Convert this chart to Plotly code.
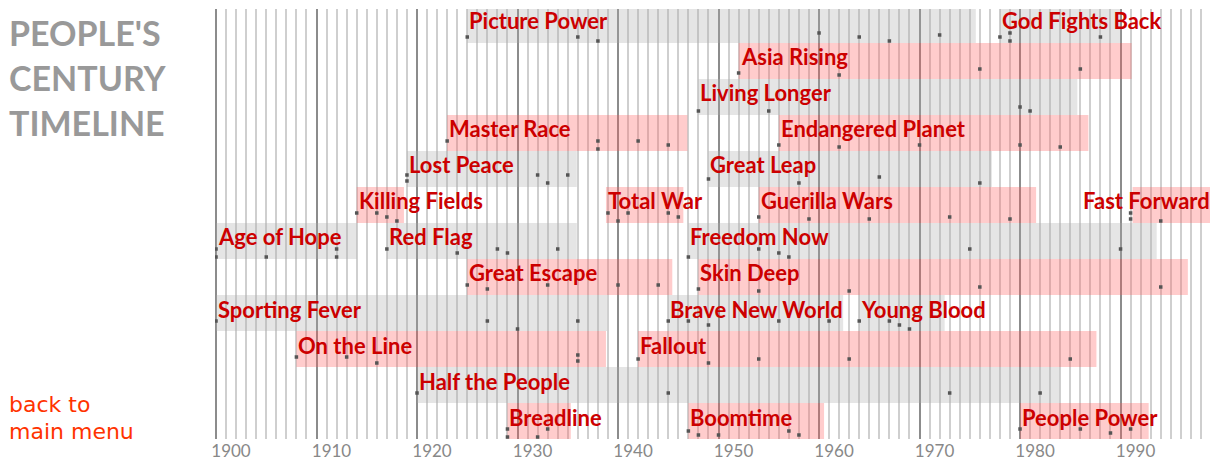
import plotly.graph_objects as go

# ---------------- data ----------------
titles = ["Picture Power", "God Fights Back", "Asia Rising", "Living Longer",
          "Master Race", "Endangered Planet", "Lost Peace", "Great Leap",
          "Killing Fields", "Total War", "Guerilla Wars", "Fast Forward",
          "Age of Hope", "Red Flag", "Freedom Now", "Great Escape", "Skin Deep",
          "Sporting Fever", "Brave New World", "Young Blood", "On the Line",
          "Fallout", "Half the People", "Breadline", "Boomtime", "People Power"]
rows = [1, 1, 2, 3, 4, 4, 5, 5, 6, 6, 6, 6, 7, 7, 7, 8, 8, 9, 9, 9, 10, 10, 11, 12, 12, 12]
starts = [1925, 1978, 1952, 1948, 1923, 1956, 1919, 1949, 1914, 1938.8, 1954, 1991.2,
          1900, 1917, 1947, 1925, 1948, 1900, 1945, 1964, 1908, 1942, 1920, 1929, 1947, 1980]
ends = [1975.6, 1990.1, 1991.1, 1985.7, 1946.9, 1986.8, 1935.9, 1977.2, 1918.7, 1946.5, 1981.6, 1999.5,
        1914, 1935.9, 1993.6, 1945.4, 1996.7, 1938.9, 1962.4, 1972.5, 1938.8, 1987.6, 1983.9, 1935.3, 1960.5, 1992.8]
dot_years = [
    [1925, 1936, 1938, 1960, 1964, 1967, 1972],
    [1978, 1979, 1979, 1988],
    [1952, 1962, 1976, 1986],
    [1948, 1955, 1980, 1981],
    [1923, 1938, 1938, 1942, 1945],
    [1956, 1962, 1970, 1980, 1984],
    [1919, 1919, 1932, 1933, 1935],
    [1949, 1958, 1966, 1976],
    [1914, 1916, 1917, 1918],
    [1939, 1940, 1941, 1945, 1946],
    [1954, 1959, 1965, 1973, 1979],
    [1991, 1991, 1994],
    [1900, 1900, 1905, 1912, 1912],
    [1917, 1924, 1928, 1929, 1934],
    [1947, 1954, 1956, 1957, 1975, 1990],
    [1925, 1927, 1933, 1940, 1944],
    [1948, 1954, 1963, 1976, 1994],
    [1900, 1927, 1930, 1936],
    [1945, 1947, 1949, 1956, 1961],
    [1964, 1967, 1968, 1969],
    [1908, 1913, 1916, 1936, 1936],
    [1942, 1949, 1954, 1963, 1985],
    [1920, 1945, 1973, 1982],
    [1929, 1929, 1932, 1933],
    [1947, 1948, 1950, 1957, 1958],
    [1980, 1986, 1989, 1991],
]
dot_levels = [
    [1, 1, 2, 0, 1, 2, 0.5],
    [1, 0, 2, 1],
    [1, 1.5, 0, 0],
    [1.5, 1.5, 0.5, 1.5],
    [0, 0, 2, 0, 1],
    [1, 1.5, 1, 1, 1.5],
    [-0.5, 1, -0.5, 1.5, -0.5],
    [0.5, 1.5, 0, 1.5],
    [0, 0, 1, 2],
    [0, 2, 0, 0, 1],
    [1, 1.5, 1.5, 1, 1.5],
    [0, 1.5, 2],
    [0, 2, 2, 0, 2],
    [0, 1, 0, 1, 0],
    [2, 0, 1, 2, 0, 0],
    [0, 1, 0, 0, 0],
    [1, 1.5, 1.5, 0.5, 0.5],
    [0, 0, 2, 0],
    [0, 0, 1, 0, 0],
    [0, 0, 1, 2],
    [0, 0, 1.5, -0.5, 1],
    [0.5, 1.5, 0.5, 0.5, 0.5],
    [0, 0, 0, 0],
    [0, 2, 2, 0],
    [0.5, 1.5, 1.5, 0.5, 1.5],
    [0, 0, 1, 0],
]
label_align = ["left"] * 11 + ["right"] + ["left"] * 14
tick_years = [1900, 1910, 1920, 1930, 1940, 1950, 1960, 1970, 1980, 1990]
tick_labels = ["1900", "1910", "1920", "1930", "1940", "1950", "1960", "1970", "1980", "1990"]
heading_lines = ["PEOPLE'S", "CENTURY", "TIMELINE"]
menu_lines = ["back to", "main menu"]

# ---------------- styling ----------------
# the page body adds an 8px offset, so the figure is 8px smaller than the window
N_ROWS = 12
X_RANGE = [1899.9, 1999.2]
GRAY = "rgba(171,171,171,0.31)"
PINK = "rgba(255,90,90,0.31)"
RED = "#cc0000"
LABEL_FONT = dict(family="Lato", size=22, color=RED, weight="bold")

yvals = [N_ROWS - r for r in rows]
colors = [GRAY if r % 2 == 1 else PINK for r in rows]

fig = go.Figure()
fig.add_trace(go.Bar(
    orientation="h",
    base=starts,
    x=[e - s for s, e in zip(starts, ends)],
    y=yvals,
    width=1.0,
    marker=dict(color=colors, line=dict(width=0)),
    hoverinfo="skip",
    showlegend=False,
))

dx, dy = [], []
for yv, yrs, lv in zip(yvals, dot_years, dot_levels):
    for yr, l in zip(yrs, lv):
        dx.append(yr)
        dy.append(yv - (8 + 4 * l) / 36.0)
fig.add_trace(go.Scatter(
    x=dx, y=dy, mode="markers",
    marker=dict(symbol="square", size=3.5, color="#555555", line=dict(width=0)),
    hoverinfo="skip", showlegend=False,
))

annotations = []
for t, s, yv, al in zip(titles, starts, yvals, label_align):
    if al == "left":
        annotations.append(dict(x=s, y=yv, text=t, xref="x", yref="y",
                                xanchor="left", yanchor="middle", xshift=0, yshift=4,
                                showarrow=False, font=LABEL_FONT))
    else:
        annotations.append(dict(x=X_RANGE[1], y=yv, text=t, xref="x", yref="y",
                                xanchor="right", yanchor="middle", xshift=-1, yshift=4,
                                showarrow=False, font=LABEL_FONT))

heading_y = [0.945, 0.840, 0.737]
for line, yy in zip(heading_lines, heading_y):
    annotations.append(dict(x=-0.2084, y=yy, xref="paper", yref="paper",
                            text=line, xanchor="left", yanchor="middle", showarrow=False,
                            font=dict(family="Lato", size=34, color="#999999", weight="bold")))
menu_y = [0.08, 0.018]
for line, yy in zip(menu_lines, menu_y):
    annotations.append(dict(x=-0.2084, y=yy, xref="paper", yref="paper",
                            text=line, xanchor="left", yanchor="middle", showarrow=False,
                            font=dict(family="DejaVu Sans", size=22, color="#ff3300")))

fig.update_layout(
    width=1210, height=453,
    margin=dict(l=207, r=5, t=1, b=22, autoexpand=False),
    paper_bgcolor="white", plot_bgcolor="white",
    annotations=annotations,
    xaxis=dict(
        range=X_RANGE, tickmode="array", tickvals=tick_years, ticktext=tick_labels,
        showgrid=True, gridcolor="#8c8c8c", gridwidth=1.5,
        minor=dict(dtick=1, tick0=1900, showgrid=True, gridcolor="#cfcfcf", gridwidth=2),
        zeroline=False, showline=False, ticks="",
        ticklabelshift=15, ticklabelstandoff=0, automargin=False,
        tickfont=dict(family="Lato", size=17, color="#888888"),
        fixedrange=True,
    ),
    yaxis=dict(range=[-0.5, N_ROWS - 0.556], showgrid=False, zeroline=False,
               showticklabels=False, ticks="", fixedrange=True, automargin=False),
)

fig.write_html("out.html")
